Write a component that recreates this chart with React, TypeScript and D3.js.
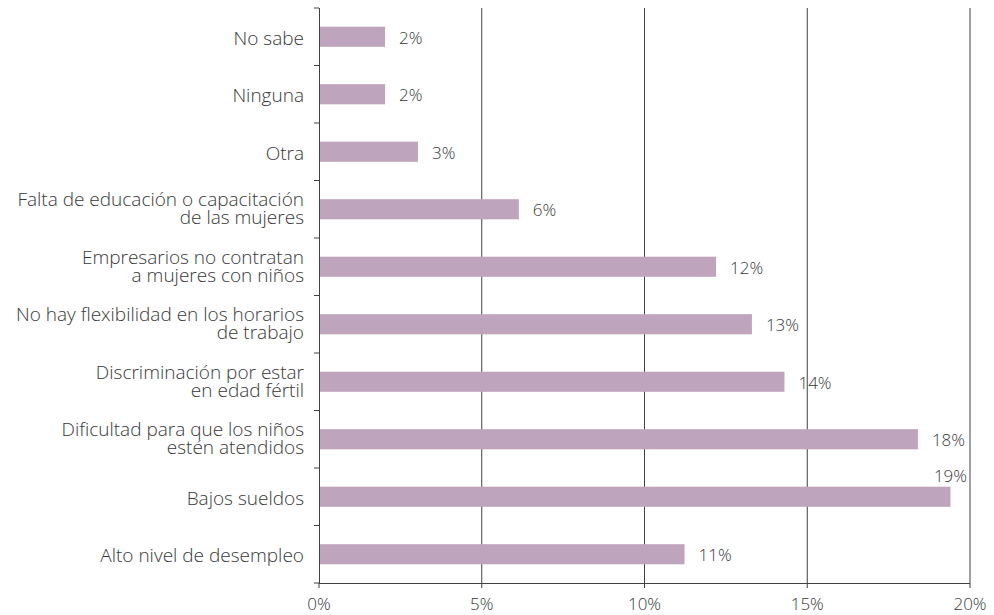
import React from "react";
import * as d3 from "d3";

const categories: string[] = [
  "No sabe",
  "Ninguna",
  "Otra",
  "Falta de educación o capacitación\nde las mujeres",
  "Empresarios no contratan\na mujeres con niños",
  "No hay flexibilidad en los horarios\nde trabajo",
  "Discriminación por estar\nen edad fértil",
  "Dificultad para que los niños\nestén atendidos",
  "Bajos sueldos",
  "Alto nivel de desempleo",
];
const values: number[] = [2.03, 2.03, 3.04, 6.14, 12.2, 13.3, 14.3, 18.4, 19.4, 11.23];
const valueLabels: string[] = ["2%", "2%", "3%", "6%", "12%", "13%", "14%", "18%", "19%", "11%"];
const xTicks: number[] = [0, 5, 10, 15, 20];

const W = 994;
const H = 615;
const margin = { top: 8, right: 24, bottom: 32, left: 319 };
const FONT = "'Open Sans', 'Noto Sans', sans-serif";
const TEXT = "#383838";
const AXIS = "#404040";
const BAR = "#bfa4bd";

export default function App() {
  const x = d3.scaleLinear().domain([0, 20]).range([margin.left, 970]);
  const y = d3
    .scaleBand<string>()
    .domain(categories)
    .range([margin.top, 583])
    .paddingInner(0.65)
    .paddingOuter(0.325);
  const boundaries = d3
    .range(categories.length + 1)
    .map((i) => margin.top + i * ((583 - margin.top) / categories.length));

  return (
    <svg
      width={W}
      height={H}
      style={{ position: "absolute", left: 0, top: 0, background: "#fff" }}
      fontFamily={FONT}
      fontWeight={300}
    >
      {xTicks.map((t) => (
        <g key={t}>
          {t > 0 && (
            <line x1={x(t)} x2={x(t)} y1={margin.top} y2={588} stroke={AXIS} strokeWidth={1} />
          )}
          {t === 0 && <line x1={x(t)} x2={x(t)} y1={583} y2={588} stroke={AXIS} strokeWidth={1} />}
          <text x={x(t)} y={610} textAnchor="middle" fontSize={17} fill={TEXT}>
            {`${t}%`}
          </text>
        </g>
      ))}
      {categories.map((c, i) => {
        const y0 = y(c)!;
        const bw = y.bandwidth();
        const xe = x(values[i]);
        const overflow = xe + 50 > x(20);
        const lines = c.split("\n");
        const cy = y0 + bw / 2;
        return (
          <g key={c}>
            <rect x={x(0)} y={y0} width={xe - x(0)} height={bw} fill={BAR} />
            <text
              x={overflow ? xe : xe + 14}
              y={overflow ? y0 - 5 : cy + 7}
              textAnchor={overflow ? "middle" : "start"}
              fontSize={17}
              fill={TEXT}
            >
              {valueLabels[i]}
            </text>
            <text x={304} textAnchor="end" fontSize={19} fill={TEXT}>
              {lines.length === 1 ? (
                <tspan x={304} y={cy + 8}>
                  {lines[0]}
                </tspan>
              ) : (
                lines.map((l, j) => (
                  <tspan key={j} x={304} y={cy - 3 + j * 18}>
                    {l}
                  </tspan>
                ))
              )}
            </text>
          </g>
        );
      })}
      <line x1={x(0) + 0.5} x2={x(0) + 0.5} y1={margin.top} y2={583} stroke={AXIS} strokeWidth={1} />
      <line x1={x(0)} x2={x(20)} y1={583.5} y2={583.5} stroke={AXIS} strokeWidth={1} />
      {boundaries.map((b, i) => (
        <line key={i} x1={x(0) - 5} x2={x(0)} y1={b} y2={b} stroke={AXIS} strokeWidth={1} />
      ))}
    </svg>
  );
}
